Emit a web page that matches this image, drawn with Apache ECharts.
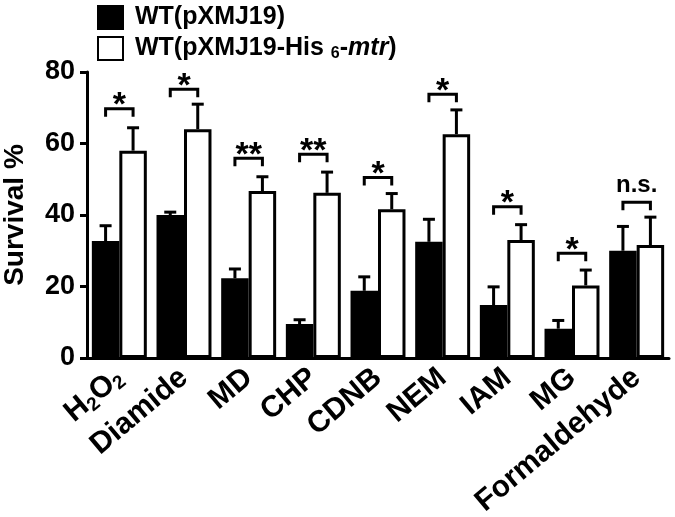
<!DOCTYPE html>
<html>
<head>
<meta charset="utf-8">
<script src="https://cdn.jsdelivr.net/npm/echarts@6/dist/echarts.min.js"></script>
<style>
  html, body { margin: 0; padding: 0; background: #fff; }
  #chart { width: 675px; height: 517px; }
</style>
</head>
<body>
<div id="chart"></div>
<script>
// categories on x axis
const categories = ['H2O2', 'Diamide', 'MD', 'CHP', 'CDNB', 'NEM', 'IAM', 'MG', 'Formaldehyde']
// WT(pXMJ19) - black bars
const wtValues = [32.7, 40.0, 22.3, 9.5, 18.8, 32.5, 14.8, 8.2, 30.0]
const wtErrTop = [37.0, 40.8, 24.9, 10.7, 22.7, 38.8, 19.9, 10.5, 36.8]
// WT(pXMJ19-His6-mtr) - white bars
const mtrValues = [58.0, 64.0, 46.7, 46.2, 41.6, 62.6, 33.0, 20.3, 31.6]
const mtrErrTop = [64.4, 71.0, 50.7, 52.0, 46.0, 69.4, 37.3, 24.6, 39.4]
// significance brackets
const bracketLevel = [69.7, 75.2, 55.9, 57.0, 50.5, 73.8, 42.3, 29.3, 43.6]
const bracketText = ['*', '*', '**', '**', '*', '*', '*', '*', 'n.s.']
// y axis ticks
const yMin = 0
const yMax = 80
const yStep = 20

const FONT = 'Liberation Sans'
const catGap = 0.15

const chart = echarts.init(document.getElementById('chart'))

// offset of a bar centre from the category centre
function barOffset(api, side) {
  const bw = api.size([1, 0])[0] * (1 - catGap) / 2
  return side * bw / 2
}

function errorSeries(values, tops, side) {
  return {
    type: 'custom',
    silent: true,
    z: 3,
    data: values.map((v, i) => [i, v, tops[i]]),
    renderItem(params, api) {
      const base = api.coord([api.value(0), api.value(1)])
      const top = api.coord([api.value(0), api.value(2)])
      const x = base[0] + barOffset(api, side)
      const style = { stroke: '#000', lineWidth: 3 }
      return {
        type: 'group',
        children: [
          { type: 'line', shape: { x1: x, y1: base[1], x2: x, y2: top[1] }, style },
          { type: 'line', shape: { x1: x - 6, y1: top[1], x2: x + 6, y2: top[1] }, style },
        ],
      }
    },
  }
}

const option = {
  animation: false,
  backgroundColor: '#fff',
  textStyle: { fontFamily: FONT },
  legend: {
    orient: 'vertical',
    left: 92,
    top: 0,
    icon: 'rect',
    itemWidth: 25,
    itemHeight: 23,
    itemGap: 6,
    data: ['wt', 'mtr'],
    formatter(name) {
      if (name === 'wt') return '{g|}{n|WT(pXMJ19)}'
      return '{g|}{n|WT(pXMJ19-His }{s|6}{n|-}{i|mtr}{n|)}'
    },
    textStyle: {
      rich: {
        g: { width: 7 },
        n: { fontFamily: FONT, fontWeight: 'bold', fontSize: 25, color: '#000' },
        s: { fontFamily: FONT, fontWeight: 'bold', fontSize: 16, color: '#000', padding: [11, 0, 0, 0] },
        i: { fontFamily: FONT, fontWeight: 'bold', fontStyle: 'italic', fontSize: 25, color: '#000' },
      },
    },
  },
  grid: { left: 87, right: 6, top: 72, bottom: 159, containLabel: false, outerBoundsMode: 'none' },
  xAxis: {
    type: 'category',
    data: categories,
    axisLine: { lineStyle: { color: '#000', width: 3 } },
    axisTick: { alignWithLabel: true, length: 7, lineStyle: { color: '#000', width: 3 } },
    axisLabel: {
      rotate: 40,
      margin: 16,
      interval: 0,
      formatter(v) {
        if (v === 'H2O2') return '{b|H}{s|2}{b|O}{s|2}'
        return '{b|' + v + '}'
      },
      rich: {
        b: { fontFamily: FONT, fontWeight: 'bold', fontSize: 30, color: '#000' },
        s: { fontFamily: FONT, fontWeight: 'bold', fontSize: 19, color: '#000', padding: [14, 0, 0, 0] },
      },
    },
  },
  yAxis: {
    type: 'value',
    min: yMin,
    max: yMax,
    interval: yStep,
    name: 'Survival %',
    nameLocation: 'middle',
    nameGap: 58,
    nameTextStyle: { fontFamily: FONT, fontWeight: 'bold', fontSize: 28, color: '#000' },
    splitLine: { show: false },
    axisLine: { show: true, lineStyle: { color: '#000', width: 3 } },
    axisTick: { show: true, length: 7, lineStyle: { color: '#000', width: 3 } },
    axisLabel: { margin: 12, fontFamily: FONT, fontWeight: 'bold', fontSize: 27, color: '#000' },
  },
  series: [
    {
      name: 'wt',
      type: 'bar',
      data: wtValues,
      barGap: '0%',
      barCategoryGap: (catGap * 100) + '%',
      itemStyle: { color: '#000', borderColor: '#000', borderWidth: 3 },
    },
    {
      name: 'mtr',
      type: 'bar',
      data: mtrValues,
      itemStyle: { color: '#fff', borderColor: '#000', borderWidth: 3 },
    },
    errorSeries(wtValues, wtErrTop, -1),
    errorSeries(mtrValues, mtrErrTop, 1),
    {
      // brackets + stars
      type: 'custom',
      silent: true,
      z: 4,
      data: bracketLevel.map((v, i) => [i, v]),
      renderItem(params, api) {
        const p = api.coord([api.value(0), api.value(1)])
        const x1 = p[0] + barOffset(api, -1)
        const x2 = p[0] + barOffset(api, 1)
        const y = p[1]
        const label = bracketText[params.dataIndex]
        const isStar = label.indexOf('*') >= 0
        return {
          type: 'group',
          children: [
            {
              type: 'polyline',
              shape: { points: [[x1, y + 8], [x1, y], [x2, y], [x2, y + 8]] },
              style: { stroke: '#000', lineWidth: 3, fill: null },
            },
            {
              type: 'text',
              style: {
                x: (x1 + x2) / 2,
                y: isStar ? y - 3 : y - 5,
                text: label,
                align: 'center',
                verticalAlign: isStar ? 'middle' : 'bottom',
                fontFamily: FONT,
                fontWeight: 'bold',
                fontSize: isStar ? 34 : 24,
                fill: '#000',
              },
            },
          ],
        }
      },
    },
  ],
}

chart.setOption(option)
</script>
</body>
</html>
